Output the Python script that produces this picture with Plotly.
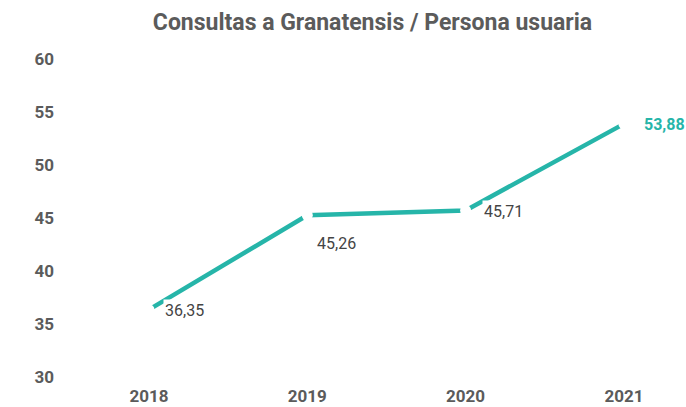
import plotly.graph_objects as go

years = ["2018", "2019", "2020", "2021"]
values = [36.35, 45.26, 45.71, 53.88]
labels = ["36,35", "45,26", "45,71", "53,88"]
y_ticks = [30, 35, 40, 45, 50, 55, 60]

TEAL = "#26b5a9"
GRAY = "#5b5b5b"
FONT = "Roboto"

x_idx = list(range(len(years)))

fig = go.Figure()
fig.add_trace(go.Scatter(
    x=x_idx, y=values, mode="lines+markers",
    line=dict(color=TEAL, width=4.5),
    marker=dict(color="white", size=11, line=dict(width=0)),
    hoverinfo="skip", showlegend=False, cliponaxis=False,
))

# label offsets (pixels) relative to data points
shifts = [(14, -1), (8, -28), (16, -1), (18, -1)]
for i, (lab, (dx, dy)) in enumerate(zip(labels, shifts)):
    last = i == len(labels) - 1
    fig.add_annotation(
        x=x_idx[i], y=values[i], xref="x", yref="y",
        text=lab, showarrow=False, xanchor="left", yanchor="middle",
        xshift=dx, yshift=dy, bgcolor="white", borderpad=1,
        font=dict(family=FONT, size=16, color=TEAL if last else "#444444",
                  weight="bold" if last else "normal"),
    )

fig.update_layout(
    width=686, height=407,
    margin=dict(l=66, r=10, t=59, b=30, autoexpand=False),
    paper_bgcolor="white", plot_bgcolor="white",
    title=dict(
        text="Consultas a Granatensis / Persona usuaria",
        font=dict(family=FONT, size=23, color=GRAY, weight="bold"),
        xref="container", x=0.543, xanchor="center",
        yref="container", y=0.946, yanchor="middle",
    ),
    xaxis=dict(
        range=[-0.524, 3.329], tickmode="array", tickvals=x_idx, ticktext=years,
        showgrid=False, zeroline=False, showline=False, ticks="",
        tickfont=dict(family=FONT, size=17, color=GRAY, weight="bold"),
        ticklabelstandoff=7, automargin=False,
    ),
    yaxis=dict(
        range=[30, 60], tickmode="array", tickvals=y_ticks,
        showgrid=False, zeroline=False, showline=False, ticks="",
        tickfont=dict(family=FONT, size=17, color=GRAY, weight="bold"),
        ticklabelstandoff=11, automargin=False,
    ),
)

fig.write_html(
    "out.html",
    config={"displayModeBar": False},
    post_script="document.body.style.margin='0';document.body.style.overflow='hidden';",
)
